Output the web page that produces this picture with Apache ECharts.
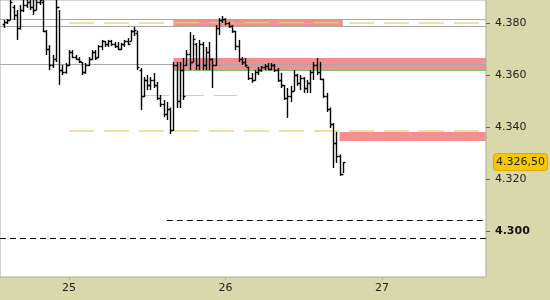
<!DOCTYPE html>
<html>
<head>
<meta charset="utf-8">
<script src="https://cdn.jsdelivr.net/npm/echarts@6/dist/echarts.min.js"></script>
<style>
  html, body { margin: 0; padding: 0; background: #d9d8aa; }
  #chart { width: 550px; height: 300px; }
</style>
</head>
<body>
<div id="chart"></div>
<script>
// 30-minute OHLC bars (index points), from day 24 14:00
const firstBarDay = 24 + 14 / 24;
const barMinutes = 30;

const opens = [
  4379.5, 4380.5, 4381, 4386, 4383, 4378, 4385, 4387, 4388, 4386,
  4385, 4388, 4388, 4377, 4370, 4364, 4366, 4386, 4362, 4361,
  4364, 4369, 4367, 4366, 4365, 4361, 4364, 4366, 4369, 4367,
  4371, 4373, 4372, 4373, 4372, 4371, 4370, 4372, 4373, 4373,
  4377, 4376, 4362, 4352, 4358, 4356, 4358, 4356, 4351, 4349,
  4345, 4347, 4339, 4364, 4350, 4362, 4364, 4368, 4365, 4372,
  4364, 4372, 4364, 4369, 4366, 4364, 4378, 4381, 4381.5, 4380,
  4379, 4377, 4371, 4366, 4365, 4363, 4359, 4358, 4361, 4362,
  4363, 4363.5, 4362.5, 4364, 4362, 4358, 4356, 4351, 4352, 4354,
  4360, 4357, 4359, 4355, 4357, 4361, 4364, 4361, 4358.5, 4352,
  4347, 4341, 4334, 4329, 4322
];
const highs = [
  4381.2, 4381.5, 4392.7, 4386.9, 4385, 4386.9, 4390.8, 4390.8, 4390.8, 4390,
  4390.8, 4390.8, 4388.8, 4377.3, 4371.5, 4367.7, 4390, 4385, 4363.9, 4364.6,
  4369.6, 4369.6, 4367.7, 4366.9, 4365, 4364.6, 4366.9, 4369.6, 4369.6, 4371.5,
  4373.5, 4373.1, 4373.5, 4373.5, 4372.7, 4372.7, 4372.3, 4373.5, 4374.2, 4377.3,
  4378.5, 4377, 4362.7, 4359.2, 4360, 4359.2, 4360.8, 4357.3, 4352.3, 4350.4,
  4349.6, 4347.5, 4365, 4365, 4365, 4366.5, 4369.6, 4376.5, 4375.4, 4372.3,
  4373.5, 4372.7, 4370.8, 4372.7, 4366.5, 4379.2, 4381.9, 4382.7, 4381.9, 4380.4,
  4379.2, 4377, 4373.5, 4366.9, 4366.5, 4363.2, 4360.8, 4361.9, 4363.1, 4363.5,
  4364.2, 4364.6, 4364.6, 4364.2, 4362.7, 4360.8, 4356.2, 4355, 4355.8, 4361.9,
  4360.5, 4360, 4359.2, 4358.1, 4361.9, 4365, 4366.5, 4365, 4358.6, 4353.1,
  4347.5, 4341.5, 4338.1, 4329.5, 4326.5
];
const lows = [
  4378.1, 4379.6, 4381.2, 4381.2, 4373.5, 4377.5, 4384.2, 4385.8, 4385, 4383.1,
  4385, 4386.9, 4376.5, 4367.7, 4361.9, 4362.7, 4365, 4356.2, 4360, 4360.5,
  4363.5, 4366.5, 4365.8, 4364.6, 4360, 4360.5, 4363.5, 4365.8, 4365.8, 4366.5,
  4369.6, 4370.8, 4370.8, 4371.2, 4370.4, 4369.6, 4369.6, 4370.8, 4371.5, 4373,
  4375, 4361.9, 4346.5, 4351.5, 4354.2, 4354.2, 4355, 4350.4, 4347.7, 4343.8,
  4342.7, 4337.3, 4338.5, 4347.3, 4347.3, 4350.4, 4363.5, 4361.9, 4365, 4361.9,
  4361.9, 4361.9, 4361.9, 4361.9, 4355, 4363.5, 4375.4, 4380, 4379.2, 4378.1,
  4376.2, 4369.6, 4365, 4363.9, 4363.1, 4358.1, 4357, 4357.8, 4360, 4361.2,
  4361.9, 4361.9, 4361.9, 4361.2, 4357.3, 4355, 4350.4, 4343.5, 4349.6, 4353.8,
  4355.8, 4354.2, 4353.1, 4353.1, 4353.1, 4358.1, 4360, 4358.1, 4351.2, 4345.8,
  4339.6, 4324.2, 4326.2, 4321.2, 4322.3
];
const closes = [
  4380.5, 4381, 4388, 4383, 4378, 4385, 4387, 4388, 4386, 4385,
  4388, 4389, 4377, 4370, 4364, 4366, 4386, 4362, 4361, 4364,
  4369, 4367, 4366, 4365.5, 4361, 4364, 4366, 4369, 4366.5, 4371,
  4373, 4372, 4373, 4372, 4371, 4370, 4372, 4373, 4372, 4377,
  4377.5, 4363, 4352, 4358, 4356, 4358, 4356, 4351, 4349, 4345,
  4347, 4339, 4364, 4350, 4362, 4352, 4368, 4365, 4374, 4364,
  4372, 4364, 4369, 4366, 4364, 4378, 4381, 4381.5, 4380, 4379,
  4377, 4371, 4366, 4365, 4364, 4359, 4358, 4361, 4362, 4363,
  4363.5, 4362.5, 4364, 4362, 4358, 4356, 4351, 4352, 4354, 4360,
  4357, 4359, 4355, 4357, 4361, 4364, 4361, 4358.5, 4352, 4347,
  4341, 4334, 4329, 4322, 4326.5
];

// axis labels
const dayTicks = [25, 26, 27];
const priceTicks = [4300, 4320, 4340, 4360, 4380];
const boldPriceTick = 4300;

// visible window
const dayMin = 24.559, dayMax = 27.665;
const priceMin = 4282.3, priceMax = 4388.85;

// marked zones: [fromDay, toDay, lowPrice, highPrice]
const redZones = [
  [25.6667, 26.75, 4378.8, 4381.5],
  [25.6667, dayMax, 4361.9, 4366.5],
  [26.729, dayMax, 4334.6, 4338.1]
];
// horizontal levels: [fromDay, toDay, price]
const greyLevels = [[dayMin, dayMax, 4381.5], [dayMin, dayMax, 4378.8], [dayMin, dayMax, 4364.2]];
const yellowLevels = [[25.0, dayMax, 4380], [25.0, dayMax, 4338.5]];
const orangeLevels = [[25.6667, 26.75, 4380]];
const greenLevels = [[25.6667, dayMax, 4361.9]];
const paleLevels = [[25.479, 26.073, 4352.3]];
const blackDashedLevels = [[25.625, dayMax, 4304.2], [dayMin, dayMax, 4297.3]];

const lastPrice = closes[closes.length - 1];

const times = closes.map((_, i) => firstBarDay + i * barMinutes / 1440);
const ohlc = times.map((t, i) => [t, opens[i], highs[i], lows[i], closes[i]]);

function fmtPrice(v, decimals) {
  const parts = v.toFixed(decimals).split('.');
  const intPart = parts[0].replace(/\B(?=(\d{3})+(?!\d))/g, '.');
  return parts.length > 1 ? intPart + ',' + parts[1] : intPart;
}

function segs(levels, style) {
  return levels.map(l => [
    { coord: [l[0], l[2]], lineStyle: style },
    { coord: [l[1], l[2]] }
  ]);
}

const chart = echarts.init(document.getElementById('chart'), null, { renderer: 'canvas' });

chart.setOption({
  animation: false,
  backgroundColor: '#d9d8aa',
  textStyle: { fontFamily: 'DejaVu Sans' },
  grid: {
    left: -1, top: -1, right: 64, bottom: 23,
    show: true, backgroundColor: '#ffffff', borderColor: '#a9a9a0', borderWidth: 1
  },
  xAxis: {
    type: 'value', min: dayMin, max: dayMax,
    splitLine: { show: false },
    axisLine: { show: false },
    axisTick: { show: true, customValues: dayTicks, length: 3, lineStyle: { color: '#b0b0a0' } },
    axisLabel: {
      customValues: dayTicks, margin: 6, fontSize: 11, color: '#222',
      formatter: v => String(v)
    }
  },
  yAxis: {
    type: 'value', position: 'right', min: priceMin, max: priceMax,
    splitLine: { show: false },
    axisLine: { show: false },
    axisTick: { show: true, customValues: priceTicks, length: 4, lineStyle: { color: '#666' } },
    axisLabel: {
      customValues: priceTicks, margin: 9, fontSize: 11, color: '#222',
      formatter: v => v === boldPriceTick ? '{b|' + fmtPrice(v, 0) + '}' : fmtPrice(v, 0),
      rich: { b: { fontWeight: 'bold', fontSize: 11, color: '#111' } }
    },
    axisPointer: {
      show: true, type: 'none', status: 'show', value: lastPrice, triggerTooltip: false,
      label: {
        show: true, margin: 8, fontSize: 11, color: '#222',
        backgroundColor: '#f7c800', borderColor: '#e0a800', borderWidth: 1,
        padding: [3, 2, 2, 2],
        formatter: () => fmtPrice(lastPrice, 2)
      }
    }
  },
  series: [
    {
      type: 'line', data: [], z: 1,
      markArea: {
        silent: true,
        itemStyle: { color: '#f48f8f' },
        data: redZones.map(z => [{ coord: [z[0], z[3]] }, { coord: [z[1], z[2]] }])
      },
      markLine: {
        silent: true, symbol: 'none', label: { show: false },
        data: [].concat(
          segs(greyLevels, { color: '#a8a8a8', width: 1, type: 'solid' }),
          segs(yellowLevels, { color: '#e6d880', width: 1.5, type: [25, 10] }),
          segs(orangeLevels, { color: '#f5a45a', width: 1.2, type: 'solid' }),
          segs(greenLevels, { color: '#78c878', width: 1.2, type: 'solid' }),
          segs(paleLevels, { color: '#cccccc', width: 1, type: [25, 10] }),
          segs(blackDashedLevels, { color: '#111', width: 1, type: [6, 4] })
        )
      }
    },
    {
      type: 'custom', z: 5, clip: true,
      data: ohlc,
      encode: { x: 0, y: [1, 2, 3, 4] },
      renderItem: function (params, api) {
        const t = api.value(0);
        const o = api.coord([t, api.value(1)]);
        const h = api.coord([t, api.value(2)]);
        const l = api.coord([t, api.value(3)]);
        const c = api.coord([t, api.value(4)]);
        const x = Math.round(h[0]) + 0.5;
        const style = { stroke: '#000', lineWidth: 1.4 };
        return {
          type: 'group',
          children: [
            { type: 'line', shape: { x1: x, y1: h[1], x2: x, y2: l[1] }, style: style },
            { type: 'line', shape: { x1: x - 2, y1: Math.round(o[1]) + 0.5, x2: x, y2: Math.round(o[1]) + 0.5 }, style: style },
            { type: 'line', shape: { x1: x, y1: Math.round(c[1]) + 0.5, x2: x + 2, y2: Math.round(c[1]) + 0.5 }, style: style }
          ]
        };
      }
    }
  ]
});
</script>
</body>
</html>
